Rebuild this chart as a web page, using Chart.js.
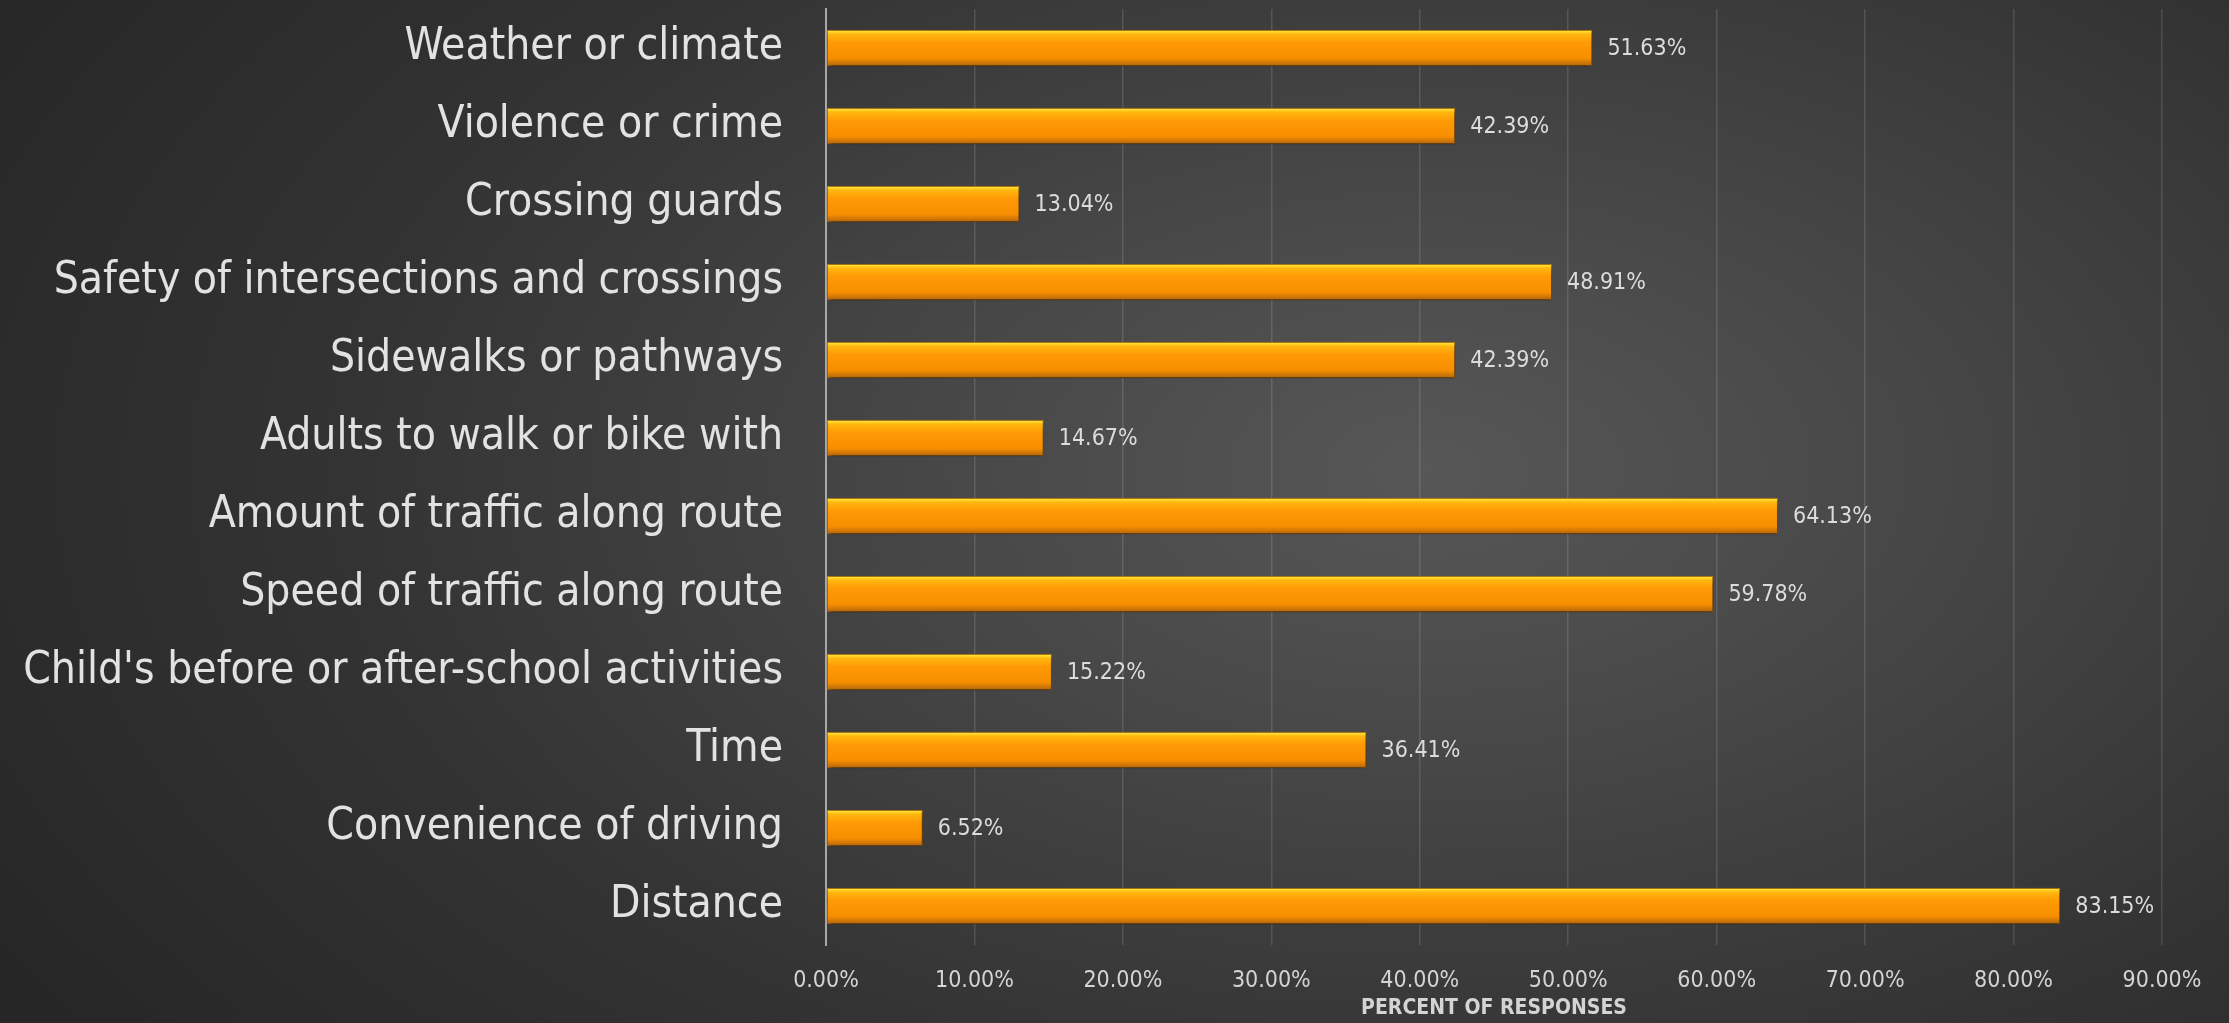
<!DOCTYPE html>
<html>
<head>
<meta charset="utf-8">
<script src="https://cdn.jsdelivr.net/npm/chart.js@4"></script>
<style>
  html, body { margin: 0; padding: 0; width: 2229px; height: 1023px; overflow: hidden; }
  body { background: radial-gradient(ellipse 75% 95% at 64% 46%, #575757 0%, #474747 30%, #333333 65%, #262626 100%); }
  #wrap { position: absolute; left: 0; top: 0; width: 2229px; height: 1023px; }
</style>
</head>
<body>
<div id="wrap"><canvas id="c" width="2229" height="1023"></canvas></div>
<script>
const categories = [
  "Weather or climate",
  "Violence or crime",
  "Crossing guards",
  "Safety of intersections and crossings",
  "Sidewalks or pathways",
  "Adults to walk or bike with",
  "Amount of traffic along route",
  "Speed of traffic along route",
  "Child's before or after-school activities",
  "Time",
  "Convenience of driving",
  "Distance"
];
const percentResponses = [51.63, 42.39, 13.04, 48.91, 42.39, 14.67, 64.13, 59.78, 15.22, 36.41, 6.52, 83.15];
const xTickMax = 90;
const xTickStep = 10;
const axisTitle = "PERCENT OF RESPONSES";

const FONT = "'Liberation Sans Narrow', 'DejaVu Sans Condensed', 'Arial Narrow', sans-serif";
const BAR_PCT = 0.47;

function barFill(ctx) {
  const chart = ctx.chart;
  const ys = chart.scales.y;
  if (!ys || ctx.dataIndex === undefined) return '#ff9900';
  const cy = ys.getPixelForValue(ctx.dataIndex);
  const band = ys.height / categories.length;
  const h = band * BAR_PCT / 2;
  if (!isFinite(cy) || !isFinite(h)) return '#ff9900';
  const g = chart.ctx.createLinearGradient(0, cy - h, 0, cy + h);
  g.addColorStop(0.00, '#e89a00');
  g.addColorStop(0.05, '#ffe030');
  g.addColorStop(0.12, '#ffb810');
  g.addColorStop(0.35, '#ff9a05');
  g.addColorStop(0.78, '#f88e00');
  g.addColorStop(0.90, '#d07808');
  g.addColorStop(1.00, '#a86210');
  return g;
}

const shadowPlugin = {
  id: 'barShadow',
  beforeDatasetsDraw(chart) {
    const c = chart.ctx;
    c.save();
    c.shadowColor = 'rgba(0,0,0,0.55)';
    c.shadowBlur = 6;
    c.shadowOffsetX = 2;
    c.shadowOffsetY = 4;
  },
  afterDatasetsDraw(chart) {
    chart.ctx.restore();
  }
};

const valueLabels = {
  id: 'valueLabels',
  afterDatasetsDraw(chart) {
    const c = chart.ctx;
    const meta = chart.getDatasetMeta(0);
    c.save();
    c.font = "23px " + FONT;
    c.fillStyle = '#dcdcdc';
    c.textAlign = 'left';
    c.textBaseline = 'middle';
    meta.data.forEach((el, i) => {
      const v = chart.data.datasets[0].data[i];
      c.fillText(v.toFixed(2) + '%', el.x + 15, el.y + 1);
    });
    c.restore();
  }
};

new Chart(document.getElementById('c'), {
  type: 'bar',
  data: {
    labels: categories,
    datasets: [{
      data: percentResponses,
      backgroundColor: barFill,
      borderColor: '#b86a08',
      borderWidth: 1,
      borderSkipped: false,
      barPercentage: BAR_PCT,
      categoryPercentage: 1.0
    }]
  },
  options: {
    indexAxis: 'y',
    responsive: false,
    animation: false,
    devicePixelRatio: 1,
    layout: { padding: { top: 9, right: 67, bottom: 0, left: 0 } },
    plugins: {
      legend: { display: false },
      tooltip: { enabled: false }
    },
    scales: {
      x: {
        min: 0,
        max: xTickMax,
        ticks: {
          stepSize: xTickStep,
          color: '#d4d4d4',
          font: { family: FONT, size: 23 },
          padding: 22,
          callback: (v) => Number(v).toFixed(2) + '%'
        },
        grid: { color: 'rgba(255,255,255,0.13)', lineWidth: 1.5, drawTicks: false },
        border: { display: false },
        title: {
          display: true,
          text: axisTitle,
          color: '#d4d4d4',
          font: { family: FONT, size: 21, weight: 'bold' },
          padding: { top: 0, bottom: 2 }
        },
        afterFit(s) { s.height = 78; s.paddingLeft = 0; s.paddingRight = 0; }
      },
      y: {
        ticks: {
          color: '#e2e2e2',
          font: { family: FONT, size: 44 },
          padding: 43
        },
        grid: { display: false, drawTicks: false },
        border: { display: true, color: '#a8a8a8', width: 2 },
        afterFit(s) { s.width = 826; s.paddingTop = 0; s.paddingBottom = 0; }
      }
    }
  },
  plugins: [shadowPlugin, valueLabels]
});
</script>
</body>
</html>
